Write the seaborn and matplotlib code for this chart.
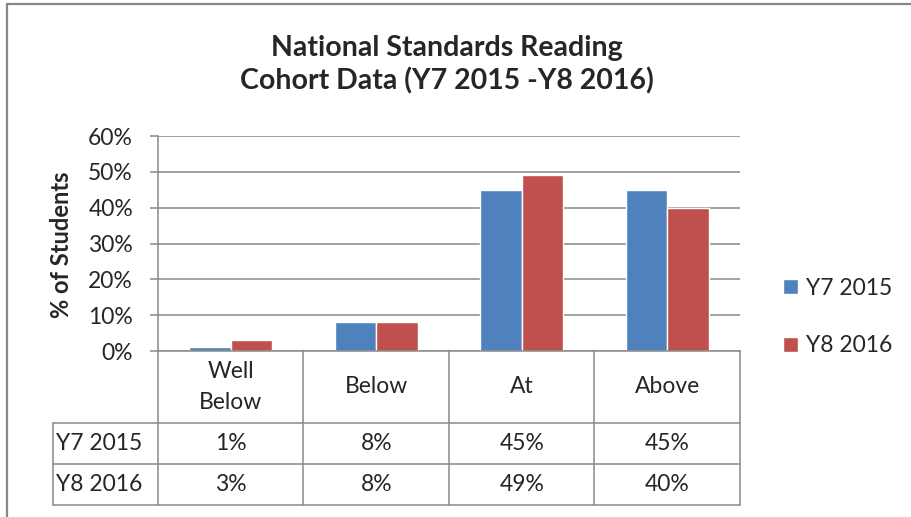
import matplotlib
matplotlib.use("Agg")
import matplotlib.pyplot as plt
import seaborn as sns
import pandas as pd
from matplotlib.lines import Line2D
from matplotlib.ticker import FixedLocator, FuncFormatter

# data
categories = ["Well\nBelow", "Below", "At", "Above"]
series = ["Y7 2015", "Y8 2016"]
y7_2015 = [1, 8, 45, 45]
y8_2016 = [3, 8, 49, 40]
yticks = [0, 10, 20, 30, 40, 50, 60]
palette = ["#4F81BD", "#C0504D"]

df = pd.DataFrame({
    "category": categories * 2,
    "cohort": [series[0]] * len(categories) + [series[1]] * len(categories),
    "pct": y7_2015 + y8_2016,
})

sns.set_style("white")
plt.rcParams["font.family"] = ["Lato", "DejaVu Sans"]
GRAY = "#898989"
FS = 16.5

W, H = 912, 517
fig = plt.figure(figsize=(W / 100, H / 100), dpi=100)


def px(x0, y0, x1, y1):
    return [x0 / W, 1 - y1 / H, (x1 - x0) / W, (y1 - y0) / H]


# bar chart
ax = fig.add_axes(px(158, 136, 740, 351))
sns.barplot(data=df, x="category", y="pct", hue="cohort", palette=palette,
            width=0.57, saturation=1, ax=ax)
ax.set_ylim(yticks[0], yticks[-1])
ax.set_xlim(-0.5, len(categories) - 0.5)
ax.yaxis.set_major_locator(FixedLocator(yticks))
ax.yaxis.set_major_formatter(FuncFormatter(lambda v, _: f"{v:.0f}%"))
ax.set_axisbelow(True)
ax.yaxis.grid(True, color=GRAY, lw=1.1)
ax.tick_params(axis="y", length=6, width=1.1, color=GRAY, pad=12, labelsize=FS,
               left=True)
ax.tick_params(axis="x", bottom=False, labelbottom=False)
ax.set_xlabel("")
ax.set_ylabel("")
for side in ["top", "right"]:
    ax.spines[side].set_visible(False)
for side in ["left", "bottom"]:
    ax.spines[side].set_color(GRAY)
    ax.spines[side].set_linewidth(1.1)

leg = ax.legend(loc="center left", bbox_to_anchor=(1.074, 0.158), frameon=False,
                fontsize=FS, handlelength=0.65, handleheight=0.65,
                handletextpad=0.35, labelspacing=1.6, borderaxespad=0, borderpad=0)
leg.set_title(None)

# data table under the chart
tab = fig.add_axes(px(53, 351, 740, 505))
lw_col = (158 - 53) / ((740 - 158) / len(categories))
left = -0.5 - lw_col
right = len(categories) - 0.5
tab.set_xlim(left, right)
tab.set_ylim(3.75, 0)
tab.axis("off")
rows = [(series[0], y7_2015), (series[1], y8_2016)]
kw = dict(color=GRAY, lw=1.1, clip_on=False)
for i, cat in enumerate(categories):
    tab.text(i, 0.875, cat, ha="center", va="center", fontsize=FS, linespacing=1.55)
    for r, (name, vals) in enumerate(rows):
        tab.text(i, 2.25 + r, f"{vals[i]}%", ha="center", va="center", fontsize=FS)
    tab.plot([i + 0.5, i + 0.5], [0, 3.75], **kw)
tab.plot([-0.5, -0.5], [0, 3.75], **kw)
for r, (name, vals) in enumerate(rows):
    tab.text(left + 0.02, 2.25 + r, name, ha="left", va="center", fontsize=FS)
for yy in [1.75, 2.75, 3.75]:
    tab.plot([left, right], [yy, yy], **kw)
tab.plot([left, left], [1.75, 3.75], **kw)

# titles
fig.text(447 / W, 1 - 65 / H, "National Standards Reading\nCohort Data (Y7 2015 -Y8 2016)",
         ha="center", va="center", fontsize=20.5, fontweight="bold", linespacing=1.3)
fig.text(62 / W, 1 - 245 / H, "% of Students", rotation=90, ha="center", va="center",
         fontsize=17, fontweight="bold")

# outer chart frame (partly cut off in the reference)
fig.add_artist(Line2D([7 / W, 7 / W], [0, 1 - 4 / H], transform=fig.transFigure,
                      color="#878787", lw=1.6))
fig.add_artist(Line2D([7 / W, 1], [1 - 4 / H, 1 - 4 / H], transform=fig.transFigure,
                      color="#878787", lw=1.6))

fig.savefig("out.png", dpi=100)
